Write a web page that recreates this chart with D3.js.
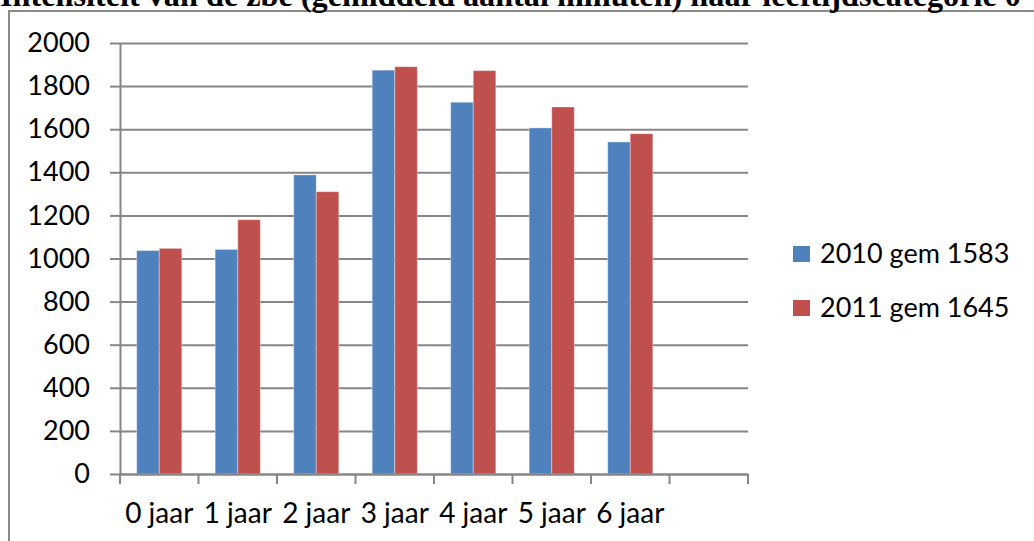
<!DOCTYPE html>
<html>
<head>
<meta charset="utf-8">
<script src="https://cdn.jsdelivr.net/npm/d3@7"></script>
<style>
  body { margin: 0; background: #fff; }
  svg { display: block; }
</style>
</head>
<body>
<svg id="chart" width="1034" height="541"></svg>
<script>
// data
const categories = ["0 jaar", "1 jaar", "2 jaar", "3 jaar", "4 jaar", "5 jaar", "6 jaar", ""];
const seriesNames = ["2010 gem 1583", "2011 gem 1645"];
const values2010 = [1037, 1042, 1388, 1874, 1725, 1606, 1541];
const values2011 = [1047, 1180, 1310, 1890, 1872, 1703, 1579];
const yTicks = [0, 200, 400, 600, 800, 1000, 1200, 1400, 1600, 1800, 2000];
const titleText = "Intensiteit van de zbe (gemiddeld aantal minuten) naar leeftijdscategorie ";
const titleTail = "0 - 6 jaar";

const colors = ["#4F81BD", "#C0504D"];
const gridColor = "#868686";
const labelFont = "Lato, 'Open Sans', sans-serif";

// plot area
const plotLeft = 120, plotRight = 748, plotTop = 43, plotBottom = 474;

const svg = d3.select("#chart");

// frame of the chart object (only top and left edges are visible)
svg.append("path")
  .attr("d", "M9,541 V11 H1034")
  .attr("fill", "none")
  .attr("stroke", "#8a8a8a")
  .attr("stroke-width", 2);

// title, cut at the top edge of the picture like in the source
const title = svg.append("text")
  .attr("x", 0)
  .attr("y", 6)
  .attr("font-family", "'Liberation Serif', 'DejaVu Serif', serif")
  .attr("font-weight", "bold")
  .attr("font-size", 24)
  .text(titleText);
// scale the title so the prefix fills the width like the reference
const w = title.node().getComputedTextLength();
title.attr("font-size", 24 * 997 / w);
title.append("tspan").text(titleTail);

// scales
const x = d3.scaleBand().domain(categories).range([plotLeft, plotRight]).padding(0);
const xInner = d3.scaleBand().domain(seriesNames).range([0, x.bandwidth()])
  .paddingInner(0).paddingOuter(0.74);
const y = d3.scaleLinear().domain([0, 2000]).range([plotBottom, plotTop]);

// horizontal gridlines
const grid = svg.append("g")
  .attr("transform", `translate(${plotLeft},0)`)
  .call(d3.axisLeft(y).tickValues(yTicks).tickSizeInner(-(plotRight - plotLeft)).tickSizeOuter(0).tickFormat(""));
grid.select(".domain").remove();
grid.selectAll(".tick line").attr("stroke", gridColor).attr("stroke-width", 2);

// bars
const rows = categories.slice(0, values2010.length).map((c, i) => ({
  cat: c, vals: [values2010[i], values2011[i]]
}));

const groups = svg.append("g").selectAll("g")
  .data(rows)
  .join("g")
  .attr("transform", d => `translate(${x(d.cat)},0)`);

groups.selectAll("rect")
  .data(d => d.vals.map((v, k) => ({ name: seriesNames[k], v, k })))
  .join("rect")
  .attr("x", d => xInner(d.name))
  .attr("width", xInner.bandwidth())
  .attr("y", d => y(d.v))
  .attr("height", d => y(0) - y(d.v))
  .attr("fill", d => colors[d.k])
  .attr("stroke", "rgba(255,255,255,0.35)")
  .attr("stroke-width", 1);

// y axis with outward ticks and labels
const yAxis = svg.append("g")
  .attr("transform", `translate(${plotLeft},0)`)
  .call(d3.axisLeft(y).tickValues(yTicks).tickFormat(d3.format("d"))
    .tickSizeInner(10).tickSizeOuter(0).tickPadding(20));
yAxis.select(".domain").attr("stroke", gridColor).attr("stroke-width", 2);
yAxis.selectAll(".tick line").attr("stroke", gridColor).attr("stroke-width", 2);
yAxis.selectAll(".tick text")
  .attr("font-family", labelFont)
  .attr("font-size", 27)
  .attr("fill", "#000");

// x axis: line at 0, ticks on category boundaries, labels centered in bands
const xAxis = svg.append("g")
  .attr("transform", `translate(0,${plotBottom})`)
  .call(d3.axisBottom(x).tickSize(0).tickPadding(29));
xAxis.select(".domain").attr("stroke", gridColor).attr("stroke-width", 2);
xAxis.selectAll(".tick text")
  .attr("font-family", labelFont)
  .attr("font-size", 28)
  .attr("fill", "#000");

const boundaries = categories.map(c => x(c)).concat([x.range()[1]]);
xAxis.append("g").selectAll("line")
  .data(boundaries)
  .join("line")
  .attr("x1", d => d).attr("x2", d => d)
  .attr("y1", 0).attr("y2", 10)
  .attr("stroke", gridColor)
  .attr("stroke-width", 2);

// legend
const legend = svg.append("g").attr("transform", "translate(793,246)");
const item = legend.selectAll("g")
  .data(seriesNames)
  .join("g")
  .attr("transform", (d, i) => `translate(0,${i * 54})`);
item.append("rect")
  .attr("width", 17).attr("height", 16)
  .attr("fill", (d, i) => colors[i]);
item.append("text")
  .attr("x", 27)
  .attr("y", 16.5)
  .attr("font-family", labelFont)
  .attr("font-size", 27)
  .attr("fill", "#000")
  .text(d => d);
</script>
</body>
</html>
